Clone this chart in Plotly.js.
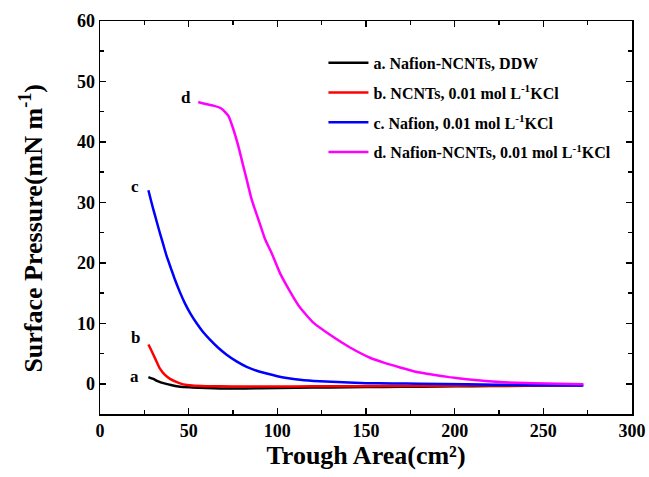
<!DOCTYPE html>
<html><head><meta charset="utf-8">
<script src="https://cdn.plot.ly/plotly-3.0.1.min.js"></script>
<style>body{margin:0;padding:0;background:#fff}#plot{width:649px;height:477px}</style>
</head><body><div id="plot"></div>
<script>
// Curve a: Nafion-NCNTs, DDW
const aX = [27.3, 30, 32.5, 35.7, 40, 45.1, 52, 60, 73.3, 90, 110, 130, 150, 170, 190, 210, 230, 250, 272];
const aY = [1.1, 0.8, 0.45, 0.1, -0.2, -0.5, -0.6, -0.7, -0.8, -0.75, -0.65, -0.6, -0.55, -0.5, -0.45, -0.4, -0.35, -0.3, -0.25];
// Curve b: NCNTs, 0.01 mol/L KCl
const bX = [27.3, 28.5, 30.1, 32, 33.8, 36.5, 39.5, 43, 47, 52, 60, 75, 90, 110, 130, 150, 170, 190, 210, 230, 250, 272];
const bY = [6.5, 5.8, 4.8, 3.6, 2.5, 1.5, 0.8, 0.3, -0.1, -0.3, -0.4, -0.45, -0.45, -0.45, -0.4, -0.4, -0.35, -0.35, -0.3, -0.3, -0.25, -0.2];
// Curve c: Nafion, 0.01 mol/L KCl
const cX = [27.3, 28.5, 30.1, 32, 33.8, 35.7, 37.6, 40, 42.3, 45, 47.9, 51, 54.5, 58, 62, 66.5, 71.4, 77, 82.7, 88, 94, 100, 105.3, 112.8, 124, 137, 150, 165, 180, 206.8, 240, 272.6];
const cY = [32.0, 30.6, 28.8, 26.8, 24.9, 23.0, 21.1, 19.1, 17.2, 15.2, 13.3, 11.6, 10.0, 8.6, 7.3, 6.0, 4.8, 3.7, 2.8, 2.2, 1.7, 1.25, 0.95, 0.65, 0.4, 0.25, 0.1, 0.05, 0.0, -0.1, -0.2, -0.3];
// Curve d: Nafion-NCNTs, 0.01 mol/L KCl
const dX = [55.4, 59, 63.9, 68.6, 72.4, 75.2, 78.0, 80.8, 82.7, 85.5, 89.3, 93.1, 96.8, 101.5, 107.1, 112.8, 120.3, 129.7, 141, 152.3, 160, 169.2, 178, 188, 197, 206.8, 216, 225.6, 235, 244.4, 258, 272.6];
const dY = [46.6, 46.3, 46.0, 45.5, 44.3, 42.1, 39.3, 36.0, 33.8, 30.5, 27.2, 23.9, 21.6, 18.3, 15.3, 12.6, 10.1, 8.1, 6.0, 4.3, 3.5, 2.7, 2.0, 1.5, 1.1, 0.76, 0.5, 0.28, 0.18, 0.1, 0.0, -0.1];

const names = ["a. Nafion-NCNTs, DDW", "b. NCNTs, 0.01 mol L<sup>-1</sup>KCl", "c. Nafion, 0.01 mol L<sup>-1</sup>KCl", "d. Nafion-NCNTs, 0.01 mol L<sup>-1</sup>KCl"];
const colors = ["#000000", "#ff0000", "#0000ff", "#ff00ff"];
const labels = ["a", "b", "c", "d"];
const labelX = [19.7, 19.9, 19.7, 48.5];
const labelY = [1.2, 7.6, 32.7, 47.4];

const xs = [aX, bX, cX, dX], ys = [aY, bY, cY, dY];
const traces = xs.map((x, i) => ({
  x: x, y: ys[i], type: 'scatter', mode: 'lines', name: names[i],
  legendgroup: 'g' + i,
  line: {color: colors[i], width: 2.5, shape: 'spline', smoothing: 0.5}
}));

const font = "'Liberation Serif', 'Times New Roman', serif";
const axisCommon = {
  showline: true, linecolor: '#000', linewidth: 1.5, mirror: 'ticks',
  ticks: 'inside', ticklen: 6, tickwidth: 1.5, tickcolor: '#000',
  showgrid: false, zeroline: false,
  tickfont: {family: font, size: 18, color: '#000', weight: 'bold'},
  minor: {ticks: 'inside', ticklen: 4, tickwidth: 1.5, tickcolor: '#000', showgrid: false}
};

const annots = labels.map((t, i) => ({
  x: labelX[i], y: labelY[i], xref: 'x', yref: 'y', text: t, showarrow: false,
  font: {family: font, size: 17, color: '#000', weight: 'bold'}
}));
annots.push({
  x: -0.128, y: 0.474, xref: 'paper', yref: 'paper', xanchor: 'center', yanchor: 'middle',
  text: 'Surface Pressure(mN m<sup>-1</sup>)', textangle: -90, showarrow: false,
  font: {family: font, size: 26, color: '#000', weight: 'bold'}
});

const layout = {
  width: 649, height: 477,
  margin: {l: 100, r: 17, t: 21, b: 63},
  paper_bgcolor: '#fff', plot_bgcolor: '#fff',
  showlegend: true,
  legend: {x: 0.42, y: 0.937, xanchor: 'left', yanchor: 'top', bgcolor: 'rgba(0,0,0,0)',
           tracegroupgap: 6, traceorder: 'grouped', itemwidth: 40,
           font: {family: font, size: 16, color: '#000', weight: 'bold'}},
  xaxis: Object.assign({}, axisCommon, {
    range: [0, 300], dtick: 50, tick0: 0,
    minor: Object.assign({}, axisCommon.minor, {dtick: 25}),
    title: {text: 'Trough Area(cm²)', font: {family: font, size: 26, color: '#000', weight: 'bold'}, standoff: 4}
  }),
  yaxis: Object.assign({}, axisCommon, {
    range: [-5, 60], dtick: 10, tick0: 0,
    minor: Object.assign({}, axisCommon.minor, {dtick: 5})
  }),
  annotations: annots
};

Plotly.newPlot('plot', traces, layout, {displayModeBar: false, staticPlot: true});
</script>
</body></html>
